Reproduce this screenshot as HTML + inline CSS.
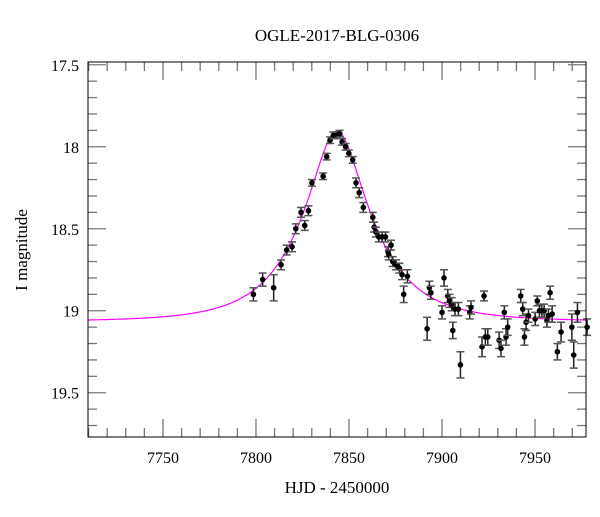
<!DOCTYPE html>
<html><head><meta charset="utf-8"><style>
body{margin:0;background:#fff}
svg text{font-family:"Liberation Serif",serif;fill:#000}
</style></head><body>
<svg id="chart" width="600" height="512" xmlns="http://www.w3.org/2000/svg">
<rect width="600" height="512" fill="#fff"/>
<text x="337" y="41" font-size="17" text-anchor="middle">OGLE-2017-BLG-0306</text>
<text x="337" y="493" font-size="17" text-anchor="middle">HJD - 2450000</text>
<text transform="translate(27,250) rotate(-90)" font-size="17" text-anchor="middle">I magnitude</text>
<g id="ticks"></g>
<g id="model"></g>
<g id="points"></g>
<rect x="88" y="62" width="498" height="375" fill="none" stroke="#000" stroke-width="1"/>
</svg>
<script>
const times=[7798.6,7803.6,7809.5,7813.5,7816.5,7819.4,7821.4,7824.2,7826.2,7828.2,7830.1,7836.1,7838.0,7839.8,7841.6,7843.4,7845.0,7846.3,7848.2,7849.9,7852.0,7853.8,7855.5,7857.7,7862.8,7863.5,7864.5,7866.0,7867.8,7869.6,7871.0,7872.6,7871.4,7873.5,7875.3,7877.1,7878.5,7879.4,7881.4,7893.2,7894.0,7892.0,7901.1,7900.0,7903.1,7904.0,7905.2,7905.8,7907.0,7908.8,7909.9,7914.9,7915.6,7922.6,7921.5,7923.3,7924.6,7930.7,7931.7,7933.5,7934.4,7935.3,7942.3,7943.4,7944.3,7945.2,7946.5,7950.1,7951.2,7952.4,7953.7,7954.9,7956.4,7958.1,7959.2,7957.2,7962.0,7964.0,7969.8,7970.8,7972.8,7978.0];
const mags=[18.90,18.81,18.86,18.72,18.63,18.61,18.50,18.40,18.48,18.39,18.22,18.18,18.06,17.96,17.93,17.93,17.92,17.97,18.00,18.04,18.08,18.22,18.28,18.37,18.43,18.49,18.52,18.55,18.55,18.55,18.64,18.60,18.66,18.70,18.72,18.74,18.78,18.90,18.79,18.86,18.89,19.11,18.80,19.01,18.91,18.94,18.96,19.12,18.99,18.99,19.33,19.01,18.98,18.91,19.22,19.16,19.16,19.18,19.23,19.01,19.16,19.10,18.91,18.99,19.16,19.07,19.03,19.05,18.94,19.00,19.00,19.00,19.06,18.89,19.02,19.03,19.25,19.13,19.10,19.27,19.01,19.10];
const errs=[0.04,0.04,0.08,0.03,0.03,0.03,0.03,0.03,0.03,0.03,0.02,0.02,0.02,0.02,0.02,0.02,0.02,0.02,0.02,0.02,0.02,0.03,0.03,0.03,0.03,0.03,0.03,0.03,0.03,0.03,0.03,0.03,0.03,0.03,0.03,0.03,0.03,0.05,0.04,0.04,0.04,0.07,0.05,0.04,0.04,0.04,0.04,0.05,0.04,0.04,0.08,0.04,0.04,0.03,0.06,0.05,0.05,0.05,0.05,0.04,0.05,0.05,0.04,0.04,0.05,0.05,0.04,0.04,0.03,0.04,0.04,0.04,0.04,0.04,0.05,0.04,0.05,0.06,0.08,0.08,0.06,0.05];
const modelParams=[7843.5,0.36,36,19.065]; // t0, u0, tE, baseline
const xTickLabels=[7750,7800,7850,7900,7950];
const yTickLabels=[17.5,18,18.5,19,19.5];
const X0=88,X1=586,Y0=62,Y1=437,TMIN=7709.7,TMAX=7977.4,MMIN=17.483,MMAX=19.77;
const sx=t=>X0+(t-TMIN)/(TMAX-TMIN)*(X1-X0);
const sy=m=>Y0+(m-MMIN)/(MMAX-MMIN)*(Y1-Y0);
const NS='http://www.w3.org/2000/svg';
function mk(tag,attrs,parent){const e=document.createElementNS(NS,tag);for(const k in attrs)e.setAttribute(k,attrs[k]);parent.appendChild(e);return e;}
const tg=document.getElementById('ticks');
for(let t=7710;t<=7977;t+=10){
  const major=(t%50===0);const L=major?18:9;const x=sx(t);
  const a=mk('line',{x1:x,x2:x,y1:Y1,y2:Y1-L,stroke:'#777','stroke-width':1.3},tg);
  
  
  const b=mk('line',{x1:x,x2:x,y1:Y0,y2:Y0+L,stroke:'#777','stroke-width':1.3},tg);
  
  
}
xTickLabels.forEach(v=>{const t=mk('text',{x:sx(v),y:463,'font-size':16,'text-anchor':'middle'},tg);t.textContent=v;
  
  });
for(let i=0;i<=22;i++){
  const m=17.5+i*0.1;const major=(i%5===0);const L=major?18:9;const y=sy(m);
  const a=mk('line',{x1:X0,x2:X0+L,y1:y,y2:y,stroke:'#777','stroke-width':1.3},tg);
  
  
  const b=mk('line',{x1:X1,x2:X1-L,y1:y,y2:y,stroke:'#777','stroke-width':1.3},tg);
  
  
}
yTickLabels.forEach(v=>{const t=mk('text',{x:79,y:sy(v)+6,'font-size':16,'text-anchor':'end'},tg);t.textContent=String(v);
  
  });
// model
const [t0,u0,tE,base]=modelParams;let d='';
for(let t=TMIN;t<=TMAX;t+=0.5){const u=Math.sqrt(u0*u0+((t-t0)/tE)**2);const A=(u*u+2)/(u*Math.sqrt(u*u+4));
  const m=base-2.5*Math.log10(A);d+=(d?'L':'M')+sx(t).toFixed(1)+' '+sy(m).toFixed(1);}
const mp=mk('path',{d:d,fill:'none',stroke:'#ff00ff','stroke-width':1.2},document.getElementById('model'));


const pg=document.getElementById('points');
times.forEach((t,i)=>{const x=sx(t),y=sy(mags[i]),e=errs[i];
  const g=mk('g',{},pg);
  
  
  mk('line',{x1:x,x2:x,y1:sy(mags[i]-e),y2:sy(mags[i]+e),stroke:'#222','stroke-width':1.5},g);
  mk('line',{x1:x-4,x2:x+4,y1:sy(mags[i]-e),y2:sy(mags[i]-e),stroke:'#555','stroke-width':1.5},g);
  mk('line',{x1:x-4,x2:x+4,y1:sy(mags[i]+e),y2:sy(mags[i]+e),stroke:'#555','stroke-width':1.5},g);
  mk('circle',{cx:x,cy:y,r:2.8,fill:'#000'},g);
});
</script>
</body></html>
